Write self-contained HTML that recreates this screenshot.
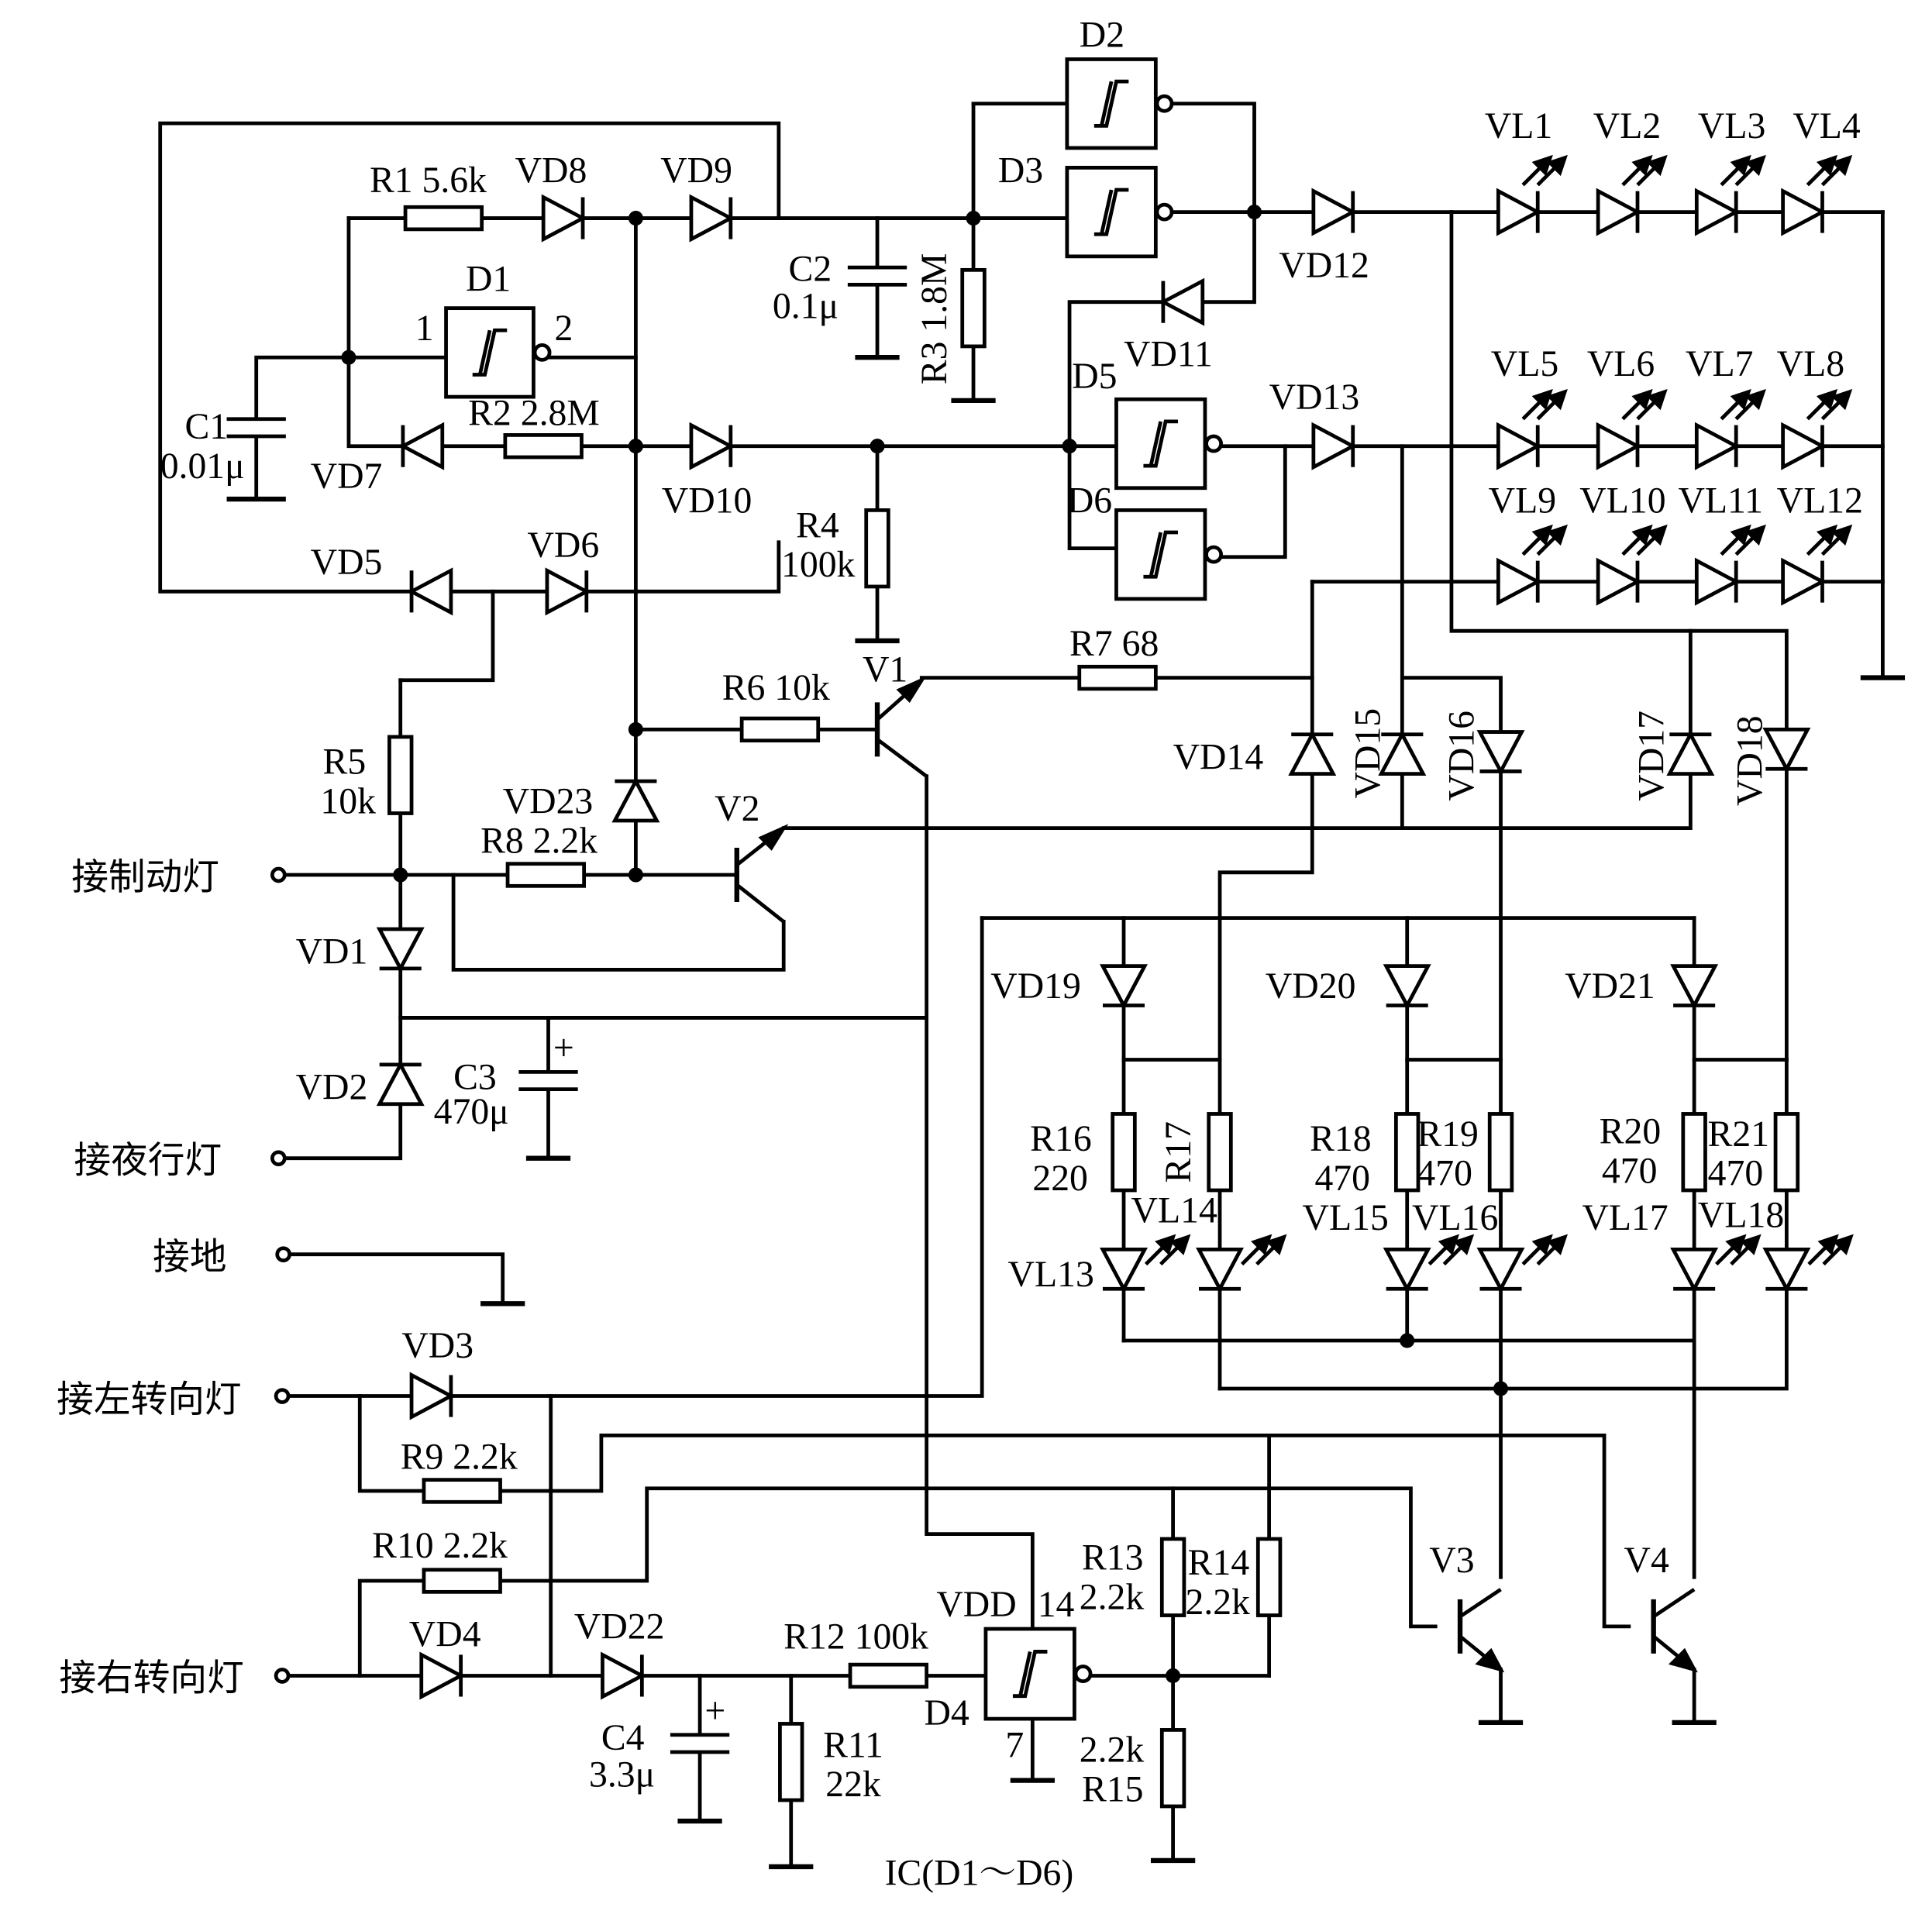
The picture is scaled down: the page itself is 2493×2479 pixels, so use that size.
<!DOCTYPE html>
<html><head><meta charset="utf-8">
<style>
html,body{margin:0;padding:0;background:#fff;}
svg{display:block;}
text{font-family:"Liberation Serif","Noto Serif CJK SC",serif;font-size:30px;fill:#000;}
.cn{font-family:"Liberation Sans","Noto Sans CJK SC",sans-serif;font-size:30px;}
</style></head>
<body>
<svg id="s" width="2493" height="2479" viewBox="0 0 1568 1559" xmlns="http://www.w3.org/2000/svg">
<g id="w" stroke="#000" stroke-width="3" fill="none" stroke-linecap="square"></g>
<g id="c" stroke="#000" stroke-width="3"></g>
<g id="t"></g>
</svg>
<script>
const W=document.getElementById('w'),C=document.getElementById('c'),T=document.getElementById('t');
const NS='http://www.w3.org/2000/svg';
function el(p,tag,a){const e=document.createElementNS(NS,tag);for(const k in a)e.setAttribute(k,a[k]);p.appendChild(e);return e;}
function L(pts){el(W,'polyline',{points:pts});}
function dot(x,y){el(C,'circle',{cx:x,cy:y,r:6,fill:'#000',stroke:'none'});}
function R(x,y,h){ if(h) el(C,'rect',{x:x-31,y:y-9,width:62,height:18,fill:'#fff'}); else el(C,'rect',{x:x-9,y:y-31,width:18,height:62,fill:'#fff'});}
function D(x,y,dir){
 let p,b; const a=17,h=16;
 if(dir=='r'){p=`${x-h},${y-a} ${x-h},${y+a} ${x+h},${y}`;b=[x+h,y-a,x+h,y+a];}
 if(dir=='l'){p=`${x+h},${y-a} ${x+h},${y+a} ${x-h},${y}`;b=[x-h,y-a,x-h,y+a];}
 if(dir=='d'){p=`${x-a},${y-h} ${x+a},${y-h} ${x},${y+h}`;b=[x-a,y+h,x+a,y+h];}
 if(dir=='u'){p=`${x-a},${y+h} ${x+a},${y+h} ${x},${y-h}`;b=[x-a,y-h,x+a,y-h];}
 el(C,'polygon',{points:p,fill:'#fff'});
 el(C,'line',{x1:b[0],y1:b[1],x2:b[2],y2:b[3]});
}
function arrows(x,y){
 for(const o of [0,12]){
  el(C,'line',{x1:x+o,y1:y,x2:x+o+18,y2:y-18});
  el(C,'polygon',{points:`${x+o+22},${y-22} ${x+o+10},${y-18} ${x+o+18},${y-10}`,fill:'#000'});
 }
}
function LED(x,y,dir){D(x,y,dir); if(dir=='r')arrows(x+4,y-22); else arrows(x+18,y-4);}
function G(x,y,w,h){
 el(C,'rect',{x:x,y:y,width:w,height:h,fill:'#fff'});
 const cx=x+w/2,cy=y+h/2;
 el(C,'polyline',{points:`${cx-14},${cy+18} ${cx-4},${cy+18} ${cx+4},${cy-18} ${cx+14},${cy-18}`,fill:'none'});
 el(C,'line',{x1:cx-8,y1:cy+18,x2:cx,y2:cy-18});
 el(C,'circle',{cx:x+w+7,cy:cy,r:6,fill:'#fff'});
}
function CAP(x,y,hor,pol){
 el(C,'rect',{x:x-24,y:y,width:48,height:14,fill:'#fff',stroke:'none'});
 el(C,'line',{x1:x-24,y1:y,x2:x+24,y2:y});el(C,'line',{x1:x-24,y1:y+14,x2:x+24,y2:y+14});
 if(pol){tx(x+4,y-10,'+',{'font-size':26});}
}
function GND(x,y,w){el(C,'line',{x1:x-w,y1:y,x2:x+w,y2:y,'stroke-width':4});}
function term(x,y){el(C,'circle',{cx:x,cy:y,r:5,fill:'#fff'});}
function tx(x,y,s,a){const e=el(T,'text',Object.assign({x:x,y:y},a||{}));e.textContent=s;return e;}
function tv(x,y,s){const e=tx(0,0,s);e.setAttribute('transform',`translate(${x},${y}) rotate(-90)`);}
function Q(bx,by,cx,cy,ex,ey){
 el(C,'line',{x1:bx,y1:by-22,x2:bx,y2:by+22,'stroke-width':4});
 el(C,'line',{x1:bx,y1:by-8,x2:cx,y2:cy});
 el(C,'line',{x1:bx,y1:by+8,x2:ex,y2:ey});
}

L('632,175 632,100 130,100 130,480 632,480 632,440');
L('283,177 866,177'); L('283,177 283,362 868,362');
L('208,340 208,290 360,290'); L('208,354 208,405');
L('433,290 516,290');
L('516,177 516,710');
L('712,177 712,217'); L('712,231 712,290');
L('790,85 790,325'); L('790,84 866,84');
L('953,84 1018,84 1018,245 868,245 868,445 906,445'); L('953,172 1178,172');
L('868,362 906,362'); L('993,362 1528,362'); L('993,452 1043,452 1043,362');
L('1178,172 1528,172'); L('1528,172 1528,550');
L('1065,472 1528,472');
L('1178,172 1178,512 1450,512 1450,860');
L('1138,362 1138,670');
L('712,362 712,520');
L('748,550 1065,550'); L('1065,472 1065,708 990,708 990,1127');
L('1138,550 1218,550 1218,1280');
L('1372,512 1372,672 636,672');
L('516,592 712,592');
L('752,630 752,1245 838,1245 838,1322');
L('325,552 400,552 400,480'); L('325,552 325,940 226,940');
L('226,710 598,710'); L('368,710 368,787 636,787 636,748');
L('325,826 752,826'); L('445,826 445,870'); L('445,884 445,940');
L('230,1018 408,1018 408,1058');
L('797,745 1375,745'); L('797,745 797,1133 226,1133');
L('912,745 912,1088'); L('1142,745 1142,1088'); L('1375,745 1375,1280');
L('912,860 990,860'); L('1142,860 1218,860'); L('1375,860 1450,860');
L('912,1088 1375,1088'); L('990,1127 1450,1127 1450,860');
L('292,1133 292,1210 447,1210'); L('447,1133 447,1360');
L('447,1210 488,1210 488,1165 1302,1165 1302,1320 1322,1320');
L('292,1360 292,1283 525,1283 525,1208 1145,1208 1145,1320 1165,1320');
L('226,1360 800,1360'); L('568,1360 568,1408'); L('568,1422 568,1478');
L('642,1360 642,1515'); L('880,1360 1030,1360');
L('952,1208 952,1510'); L('1030,1165 1030,1360'); L('838,1395 838,1445');
L('1218,1355 1218,1398'); L('1375,1355 1375,1398');

R(360,177,1); D(457,177,'r'); D(577,177,'r');
G(362,250,71,72); D(343,362,'l'); R(441,362,1); D(577,362,'r');
D(350,480,'l'); D(460,480,'r');
CAP(208,340); GND(208,405,24);
CAP(712,217); GND(712,290,18);
R(790,250,0); GND(790,325,18);
G(866,48,72,72); G(866,136,72,72); G(906,324,72,72); G(906,414,72,72);
D(1082,172,'r'); D(960,245,'l'); D(1082,362,'r');
for(const x of [1232,1313,1393,1463]){LED(x,172,'r');LED(x,362,'r');LED(x,472,'r');}
GND(1528,550,18);
R(712,445,0); GND(712,520,18);
R(907,550,1); R(633,592,1);
Q(712,592,748,552,752,630); Q(598,710,636,672,636,748);
D(516,650,'u'); R(443,710,1); R(325,629,0);
D(325,770,'d'); D(325,880,'u'); CAP(445,870,0,1); GND(445,940,18);
GND(408,1058,18);
D(1065,612,'u'); D(1138,612,'u'); D(1218,610,'d'); D(1372,612,'u'); D(1450,608,'d');
for(const x of [912,1142,1375]) D(x,800,'d');
for(const x of [912,990,1142,1218,1375,1450]){R(x,935,0);LED(x,1030,'d');}
dot(1142,1088); dot(1218,1127);
D(350,1133,'r'); R(375,1210,1); R(375,1283,1); D(358,1360,'r'); D(505,1360,'r');
CAP(568,1408,0,1); GND(568,1478,18); R(642,1430,0); GND(642,1515,18);
R(721,1360,1); G(800,1322,72,73); GND(838,1445,18);
R(952,1280,0); R(1030,1280,0); R(952,1435,0); GND(952,1510,18);
Q(1185,1320,1218,1290,1218,1355); Q(1342,1320,1375,1290,1375,1355);
el(C,'polygon',{points:'1218,1355 1200,1350 1210,1340',fill:'#000'});
el(C,'polygon',{points:'1375,1355 1357,1350 1367,1340',fill:'#000'});
el(C,'polygon',{points:'748,552 730,560 738,568',fill:'#000'});
el(C,'polygon',{points:'636,672 618,680 626,688',fill:'#000'});
GND(1218,1398,18); GND(1375,1398,18);
for(const [x,y] of [[283,290],[516,177],[516,362],[790,177],[1018,172],[868,362],[712,362],[325,710],[516,710],[516,592],[952,1360]]) dot(x,y);
for(const [x,y] of [[226,710],[226,940],[230,1018],[229,1133],[229,1360]]) term(x,y);

tx(876,38,'D2');tx(810,148,'D3');tx(378,236,'D1');tx(337,276,'1');tx(450,276,'2');
tx(300,156,'R1 5.6k');tx(418,148,'VD8');tx(536,148,'VD9');
tx(380,345,'R2 2.8M');tx(252,396,'VD7');tx(537,416,'VD10');
tx(150,356,'C1');tx(130,388,'0.01μ');
tx(640,228,'C2');tx(627,258,'0.1μ');tv(768,312,'R3 1.8M');
tx(1038,225,'VD12');tx(912,297,'VD11');tx(870,315,'D5');tx(1030,332,'VD13');tx(866,416,'D6');
tx(1205,112,'VL1');tx(1293,112,'VL2');tx(1378,112,'VL3');tx(1455,112,'VL4');
tx(1210,305,'VL5');tx(1288,305,'VL6');tx(1368,305,'VL7');tx(1442,305,'VL8');
tx(1208,416,'VL9');tx(1282,416,'VL10');tx(1362,416,'VL11');tx(1442,416,'VL12');
tx(252,466,'VD5');tx(428,452,'VD6');
tx(646,436,'R4');tx(634,468,'100k');
tx(868,532,'R7 68');tx(700,553,'V1');tx(586,568,'R6 10k');
tx(952,624,'VD14');tv(1120,648,'VD15');tv(1196,650,'VD16');tv(1350,650,'VD17');tv(1430,654,'VD18');
tx(262,628,'R5');tx(260,660,'10k');tx(408,660,'VD23');tx(580,666,'V2');tx(390,692,'R8 2.2k');
tx(58,722,'接制动灯',{class:'cn'});tx(240,782,'VD1');tx(240,892,'VD2');
tx(368,884,'C3');tx(352,912,'470μ');
tx(60,952,'接夜行灯',{class:'cn'});tx(124,1030,'接地',{class:'cn'});
tx(804,810,'VD19');tx(1027,810,'VD20');tx(1270,810,'VD21');
tx(836,934,'R16');tx(838,966,'220');tv(966,960,'R17');
tx(1063,934,'R18');tx(1067,966,'470');tx(1150,930,'R19');tx(1150,962,'470');
tx(1298,928,'R20');tx(1300,960,'470');tx(1386,930,'R21');tx(1386,962,'470');
tx(918,992,'VL14');tx(1057,998,'VL15');tx(1146,998,'VL16');tx(1284,998,'VL17');tx(1378,996,'VL18');
tx(818,1044,'VL13');
tx(326,1102,'VD3');tx(46,1146,'接左转向灯',{class:'cn'});
tx(325,1192,'R9 2.2k');tx(302,1264,'R10 2.2k');
tx(332,1336,'VD4');tx(466,1330,'VD22');tx(48,1372,'接右转向灯',{class:'cn'});
tx(488,1420,'C4');tx(478,1450,'3.3μ');
tx(668,1426,'R11');tx(670,1458,'22k');tx(636,1338,'R12 100k');
tx(760,1312,'VDD');tx(842,1312,'14');tx(750,1400,'D4');tx(816,1426,'7');
tx(878,1274,'R13');tx(876,1306,'2.2k');tx(964,1278,'R14');tx(962,1310,'2.2k');
tx(876,1430,'2.2k');tx(878,1462,'R15');
tx(1160,1276,'V3');tx(1318,1276,'V4');
tx(718,1530,'IC(D1～D6)');
</script>
</body></html>
